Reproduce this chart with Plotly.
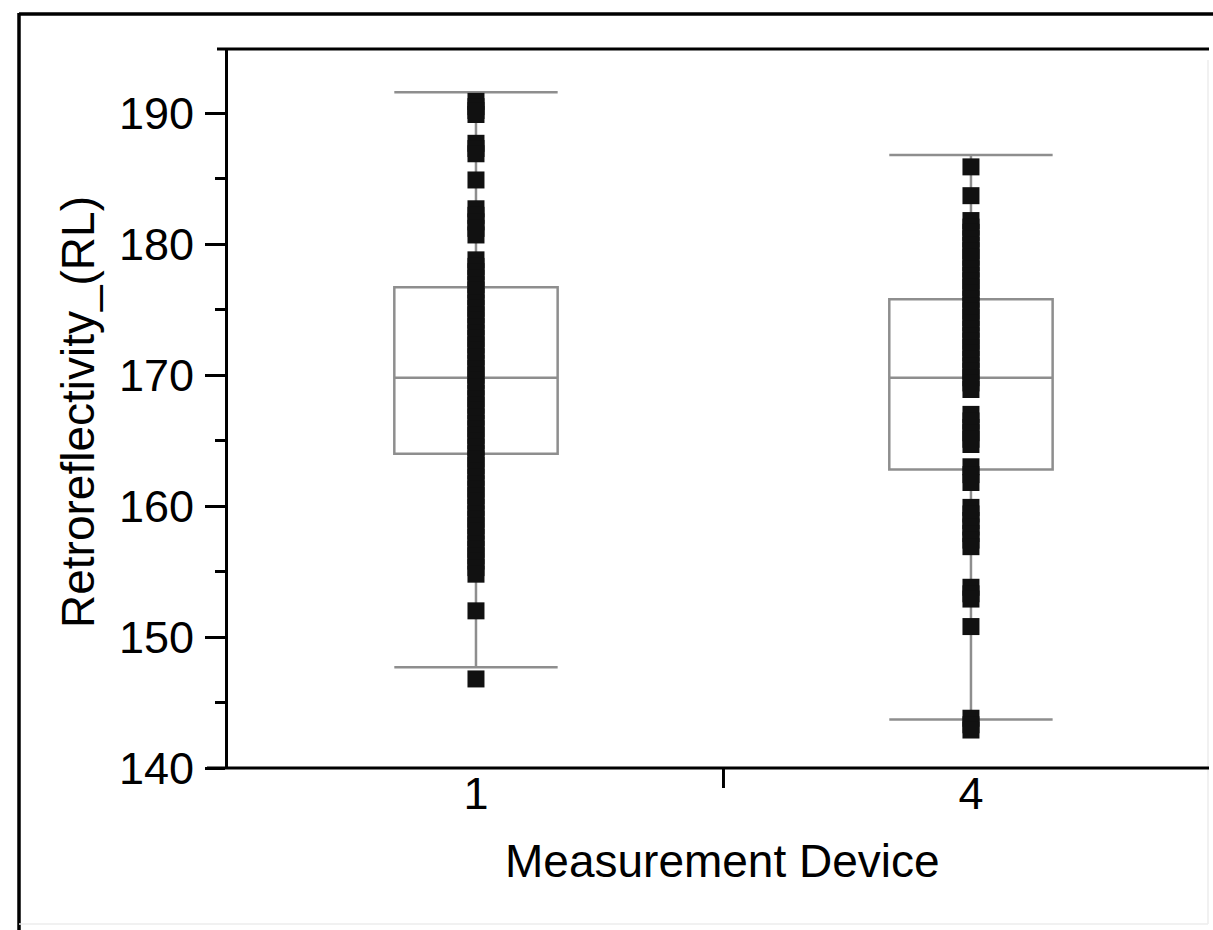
import plotly.graph_objects as go

# Measurement devices and their position on the category axis
devices = ["1", "4"]
device_pos = [0, 1]

# Box summary statistics per device
q1 = [164.0, 162.8]
median = [169.8, 169.8]
q3 = [176.7, 175.8]
lower_whisker = [147.7, 143.7]
upper_whisker = [191.6, 186.8]

# Individual retroreflectivity readings, device 1
device1_rl = [
    190.9, 190.5, 190.2, 189.9,
    187.7, 187.3, 186.9,
    184.9,
    182.7, 182.2, 181.7, 181.2, 180.7,
    178.8, 178.3, 177.9, 177.4, 176.9, 176.5, 176.0, 175.5, 175.1, 174.6,
    174.2, 173.7, 173.2, 172.8, 172.3, 171.9, 171.4, 170.9, 170.5, 170.0,
    169.6, 169.1, 168.6, 168.2, 167.7, 167.3, 166.8, 166.3, 165.9, 165.4,
    165.0, 164.5, 164.0, 163.6, 163.1, 162.7, 162.2, 161.7, 161.3, 160.8,
    160.4, 159.9, 159.4, 159.0, 158.5, 158.1, 157.6, 157.1, 156.7, 156.2,
    155.8, 155.3, 154.8,
    152.0,
    146.8,
]

# Individual retroreflectivity readings, device 4
device4_rl = [
    185.9,
    183.7,
    181.8, 181.3, 180.9, 180.4, 179.9, 179.5, 179.0, 178.6, 178.1, 177.6,
    177.2, 176.7, 176.3, 175.8, 175.3, 174.9, 174.4, 174.0, 173.5, 173.0,
    172.6, 172.1, 171.7, 171.2, 170.7, 170.3, 169.8, 169.4, 168.9,
    167.0, 166.5, 166.0, 165.6, 165.1, 164.7,
    163.0, 162.4, 161.8,
    159.9, 159.4, 158.9, 158.4, 157.9, 157.4, 156.9,
    153.8, 153.3, 152.9,
    150.8,
    143.8, 143.3, 142.9,
]

y_ticks = [140, 150, 160, 170, 180, 190]

FONT = "Liberation Sans, Arial, Helvetica, sans-serif"
BOX_GRAY = "#8e8e8e"

W, H = 1213, 930
ML, MR, MT, MB = 228, 0, 49, 162
PW, PH = W - ML - MR, H - MT - MB


def px_x(p):
    return (p - ML) / PW


def px_y(p):
    return (H - MB - p) / PH


fig = go.Figure()

fig.add_trace(go.Box(
    x=device_pos,
    q1=q1, median=median, q3=q3,
    lowerfence=lower_whisker, upperfence=upper_whisker,
    width=0.33,
    whiskerwidth=1,
    fillcolor="rgba(255,255,255,0)",
    line=dict(color=BOX_GRAY, width=2.5),
    boxpoints=False,
    showlegend=False,
    hoverinfo="skip",
))

for pos, vals in zip(device_pos, [device1_rl, device4_rl]):
    fig.add_trace(go.Scatter(
        x=[pos] * len(vals),
        y=vals,
        mode="markers",
        marker=dict(symbol="square", size=17, color="#111111", line=dict(width=0)),
        showlegend=False,
    ))

shapes = [
    # outer frame: strong left/top edges, faint right/bottom edges
    dict(type="line", xref="paper", yref="paper",
         x0=px_x(19), x1=px_x(19), y0=px_y(13), y1=px_y(935),
         line=dict(color="black", width=3.5)),
    dict(type="line", xref="paper", yref="paper",
         x0=px_x(19), x1=px_x(1215), y0=px_y(14), y1=px_y(14),
         line=dict(color="black", width=3.5)),
    dict(type="line", xref="paper", yref="paper",
         x0=px_x(1208), x1=px_x(1208), y0=px_y(60), y1=px_y(924),
         line=dict(color="#ececec", width=1.5)),
    dict(type="line", xref="paper", yref="paper",
         x0=px_x(19), x1=px_x(1208), y0=px_y(924), y1=px_y(924),
         line=dict(color="#ececec", width=1.5)),
    # top border of the plotting frame
    dict(type="line", xref="paper", yref="paper",
         x0=px_x(217), x1=px_x(1209), y0=1, y1=1,
         line=dict(color="black", width=3)),
    # bottom axis line of the plotting frame
    dict(type="line", xref="paper", yref="paper",
         x0=px_x(207), x1=px_x(1209), y0=0, y1=0,
         line=dict(color="black", width=3)),
    # divider tick between the two device categories
    dict(type="line", xref="x", yref="paper",
         x0=0.5, x1=0.5, y0=0, y1=-20 / PH,
         line=dict(color="black", width=3)),
]

fig.update_layout(
    width=W, height=H,
    margin=dict(l=ML, r=MR, t=MT, b=MB, pad=0),
    paper_bgcolor="white",
    plot_bgcolor="white",
    font=dict(family=FONT, color="black", size=45),
    shapes=shapes,
    xaxis=dict(
        range=[-0.501, 1.489],
        tickvals=device_pos,
        ticktext=devices,
        ticks="",
        showgrid=False, zeroline=False,
        showline=False,
        tickfont=dict(size=45),
        ticklabelstandoff=-5,
    ),
    yaxis=dict(
        range=[140, 194.9],
        tickvals=y_ticks,
        ticks="outside", ticklen=20, tickwidth=3, tickcolor="black",
        minor=dict(dtick=5, tick0=140, ticks="outside", ticklen=10,
                   tickwidth=3, tickcolor="black", showgrid=False),
        showgrid=False, zeroline=False,
        showline=True, linecolor="black", linewidth=3,
        tickfont=dict(size=45),
        ticklabelstandoff=2,
    ),
    annotations=[
        dict(text="Measurement Device", xref="paper", yref="paper",
             x=px_x(722), y=px_y(861), xanchor="center", yanchor="middle",
             showarrow=False, font=dict(size=46)),
        dict(text="Retroreflectivity_(RL)", xref="paper", yref="paper",
             x=px_x(78), y=px_y(412), xanchor="center", yanchor="middle",
             textangle=-90, showarrow=False, font=dict(size=46)),
    ],
)

fig.write_html("out.html")
